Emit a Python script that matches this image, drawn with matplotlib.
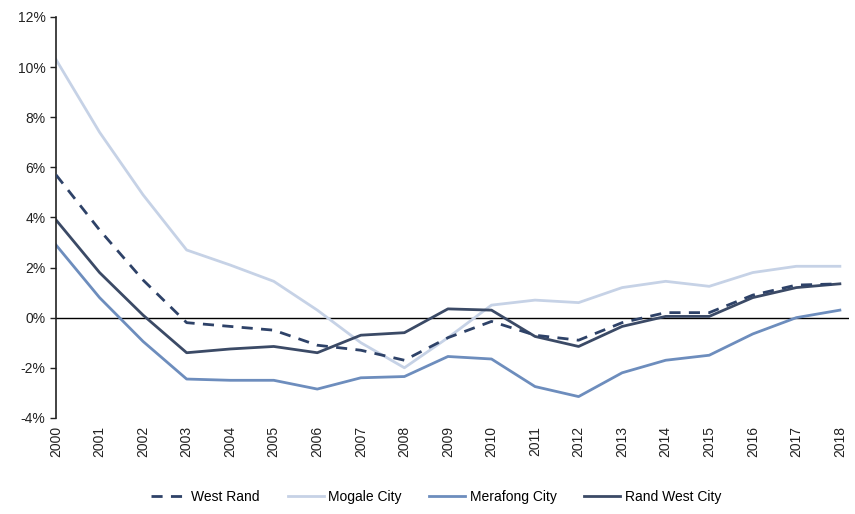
import matplotlib.pyplot as plt
from matplotlib.ticker import FuncFormatter

plt.rcParams['font.family'] = ['Liberation Sans', 'DejaVu Sans']

years = list(range(2000, 2019))
west_rand = [5.7, 3.5, 1.5, -0.2, -0.35, -0.5, -1.1, -1.3, -1.7, -0.8,
             -0.15, -0.7, -0.9, -0.2, 0.2, 0.2, 0.9, 1.3, 1.35]
mogale = [10.3, 7.4, 4.9, 2.7, 2.1, 1.45, 0.3, -1.0, -2.0, -0.8,
          0.5, 0.7, 0.6, 1.2, 1.45, 1.25, 1.8, 2.05, 2.05]
merafong = [2.9, 0.8, -0.95, -2.45, -2.5, -2.5, -2.85, -2.4, -2.35, -1.55,
            -1.65, -2.75, -3.15, -2.2, -1.7, -1.5, -0.65, 0.0, 0.3]
rand_west = [3.9, 1.8, 0.1, -1.4, -1.25, -1.15, -1.4, -0.7, -0.6, 0.35,
             0.3, -0.75, -1.15, -0.35, 0.05, 0.05, 0.8, 1.2, 1.35]

fig = plt.figure(figsize=(8.55, 5.14), dpi=100)
ax = fig.add_axes([0.0655, 0.187, 0.927, 0.780])

ax.axhline(0, color='black', lw=1, zorder=1)
ax.plot(years, west_rand, color='#2e4268', lw=2, ls=(0, (4, 3)), label='West Rand', zorder=3)
ax.plot(years, mogale, color='#c6d2e6', lw=2, label='Mogale City', zorder=2)
ax.plot(years, merafong, color='#6d8dbd', lw=2, label='Merafong City', zorder=2)
ax.plot(years, rand_west, color='#3b4a66', lw=2, label='Rand West City', zorder=2)

ax.set_xlim(2000, 2018.2)
ax.set_ylim(-4, 12)
ax.set_yticks(range(-4, 13, 2))
ax.yaxis.set_major_formatter(FuncFormatter(lambda v, p: f'{v:.0f}%'))
ax.set_xticks(years)
ax.set_xticklabels([str(y) for y in years], rotation=90)

for s in ['top', 'right', 'bottom']:
    ax.spines[s].set_visible(False)
ax.spines['left'].set_color('#222222')
ax.spines['left'].set_linewidth(1.2)
ax.tick_params(axis='y', length=4, width=1, direction='out', labelsize=10, colors='#222222')
ax.tick_params(axis='x', length=0, labelsize=10, pad=6, colors='#222222')

fig.legend(loc='lower center', bbox_to_anchor=(0.51, -0.005), ncol=4, frameon=False,
           fontsize=10, handlelength=2.6, handletextpad=0.3, columnspacing=2.0)

fig.savefig('out.png', dpi=100)
